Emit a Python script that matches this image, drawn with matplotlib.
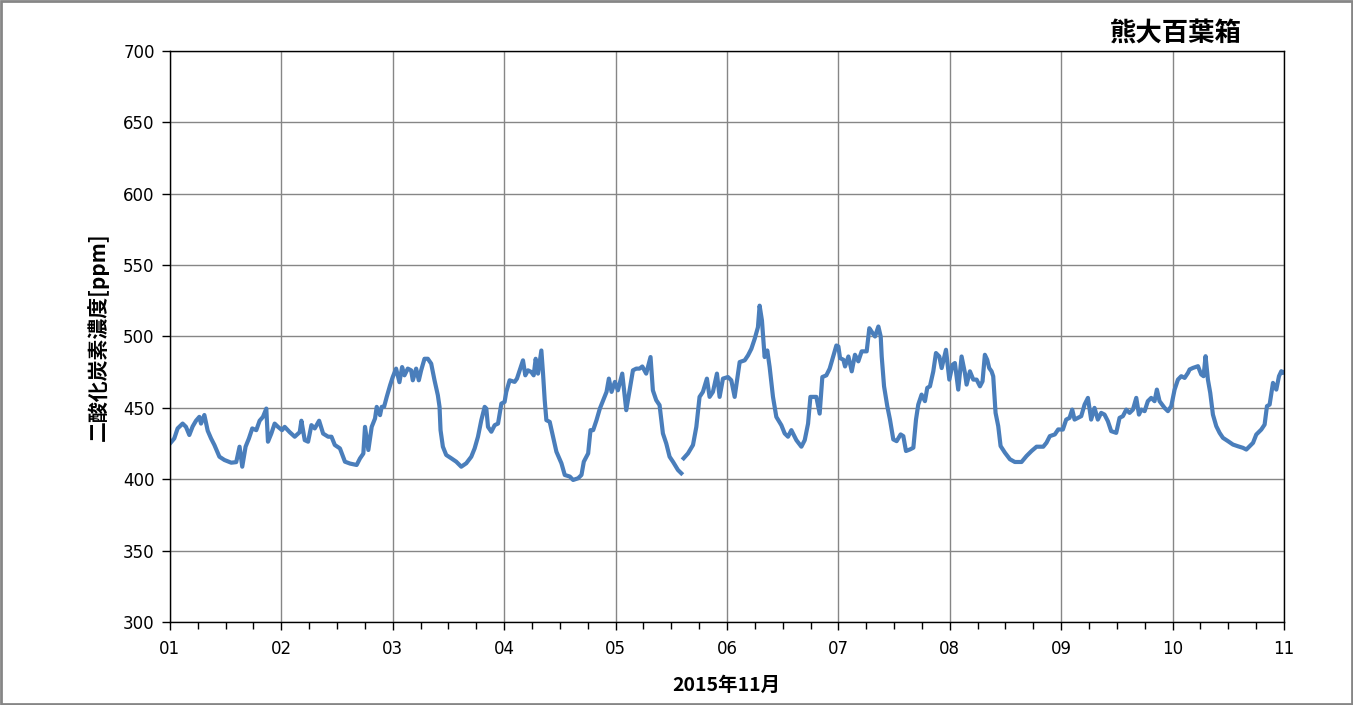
import numpy as np
import matplotlib
matplotlib.use('Agg')
import matplotlib.pyplot as plt
from matplotlib.ticker import MultipleLocator, FuncFormatter
from matplotlib.patches import Rectangle

# time in days of November 2015, CO2 concentration in ppm
days = [
    1.000, 1.039, 1.069, 1.114, 1.144, 1.174, 1.204, 1.234, 1.264, 1.279, 1.309, 1.339, 1.369, 1.399,
    1.444, 1.489, 1.550, 1.595, 1.625, 1.649, 1.679, 1.709, 1.739, 1.775, 1.805, 1.835, 1.865, 1.880,
    1.910, 1.940, 1.970, 2.006, 2.030, 2.075, 2.120, 2.165, 2.180, 2.210, 2.240, 2.270, 2.300, 2.339,
    2.375, 2.420, 2.450, 2.480, 2.526, 2.571, 2.616, 2.676, 2.706, 2.736, 2.751, 2.781, 2.811, 2.841,
    2.856, 2.886, 2.901, 2.922, 2.946, 2.976,
    3.000, 3.030, 3.060, 3.084, 3.105, 3.135, 3.165, 3.180, 3.210, 3.234, 3.255, 3.285, 3.315, 3.345,
    3.375, 3.405, 3.420, 3.429, 3.450, 3.480, 3.525, 3.570, 3.615, 3.660, 3.705, 3.735, 3.765, 3.795,
    3.825, 3.840, 3.855, 3.885, 3.915, 3.945, 3.975, 4.004, 4.019, 4.049, 4.094, 4.115, 4.139, 4.169,
    4.190, 4.214, 4.244, 4.265, 4.283, 4.304, 4.334, 4.349, 4.364, 4.379, 4.409, 4.439, 4.469, 4.514,
    4.544, 4.589, 4.619, 4.664, 4.694, 4.715, 4.754, 4.775, 4.799, 4.829, 4.859, 4.889, 4.919, 4.940,
    4.964, 4.994,
    5.021, 5.060, 5.096, 5.126, 5.156, 5.186, 5.216, 5.240, 5.275, 5.314, 5.335, 5.365, 5.395, 5.425,
    5.455, 5.485, 5.515, 5.560, 5.590, 5.600, 5.611, 5.650, 5.695, 5.725, 5.754, 5.784, 5.820, 5.844,
    5.874, 5.910, 5.934, 5.964, 6.009, 6.039, 6.069, 6.114, 6.159, 6.189, 6.219, 6.249, 6.278, 6.293,
    6.314, 6.338, 6.362, 6.383, 6.413, 6.443, 6.488, 6.518, 6.548, 6.578, 6.623, 6.668, 6.698, 6.728,
    6.749, 6.772, 6.802, 6.832, 6.856, 6.892, 6.922, 6.952, 6.982,
    7.000, 7.015, 7.045, 7.060, 7.090, 7.120, 7.149, 7.179, 7.209, 7.254, 7.278, 7.308, 7.329, 7.359,
    7.380, 7.389, 7.410, 7.439, 7.463, 7.493, 7.523, 7.559, 7.583, 7.607, 7.643, 7.673, 7.697, 7.717,
    7.747, 7.777, 7.798, 7.822, 7.852, 7.876, 7.906, 7.927, 7.966, 7.996, 8.025, 8.046, 8.076, 8.106,
    8.136, 8.151, 8.181, 8.211, 8.241, 8.271, 8.294, 8.315, 8.336, 8.354, 8.375, 8.390, 8.411, 8.435,
    8.456, 8.495, 8.540, 8.584, 8.644, 8.689, 8.734, 8.779, 8.839, 8.868, 8.898, 8.943, 8.973,
    9.015, 9.045, 9.075, 9.099, 9.120, 9.150, 9.180, 9.210, 9.240, 9.269, 9.299, 9.329, 9.359, 9.389,
    9.419, 9.449, 9.494, 9.524, 9.554, 9.584, 9.614, 9.644, 9.674, 9.698, 9.719, 9.749, 9.778, 9.808,
    9.838, 9.859, 9.883, 9.928, 9.958, 9.988, 10.018, 10.048, 10.078, 10.108, 10.138, 10.153, 10.183,
    10.228, 10.257, 10.278, 10.296, 10.317, 10.338, 10.362, 10.392, 10.422, 10.452, 10.497, 10.542,
    10.587, 10.632, 10.662, 10.692, 10.722, 10.751, 10.796, 10.826, 10.847, 10.871, 10.901, 10.931,
    10.955, 10.976, 10.991, 11.000,
]
co2 = [
    425.0, 428.6, 435.6, 439.0, 436.7, 431.0, 437.0, 441.0, 443.7, 439.0, 445.0, 434.0, 428.6, 424.0,
    415.8, 413.5, 411.6, 412.0, 422.8, 408.8, 422.8, 428.6, 435.6, 434.4, 441.0, 443.7, 449.5, 426.3,
    432.0, 439.0, 436.7, 434.4, 436.7, 433.0, 429.8, 433.0, 441.0, 427.4, 426.3, 437.9, 435.6, 441.0,
    432.0, 429.8, 429.8, 424.0, 421.6, 412.3, 411.0, 410.0, 414.6, 418.0, 436.7, 420.5, 436.7, 442.6,
    450.7, 444.9, 450.7, 450.7, 457.7, 465.8,
    471.6, 477.5, 468.0, 478.6, 472.8, 477.5, 476.3, 469.3, 477.5, 469.3, 476.3, 484.4, 484.4, 481.0,
    469.3, 458.8, 450.7, 434.4, 422.8, 417.0, 414.7, 412.3, 408.8, 411.2, 415.8, 421.6, 429.8, 441.4,
    450.7, 449.5, 436.7, 433.3, 437.9, 439.0, 453.0, 454.2, 461.2, 469.3, 468.2, 470.5, 476.3, 483.3,
    472.8, 476.3, 475.1, 472.8, 484.4, 474.0, 490.2, 474.0, 455.4, 441.4, 440.2, 429.8, 419.3, 411.2,
    403.0, 401.9, 399.5, 400.7, 403.0, 412.3, 418.1, 434.4, 434.4, 441.4, 449.5, 455.4, 461.2, 470.5,
    461.2, 468.2,
    462.3, 474.0, 448.4, 462.3, 476.3, 477.5, 477.5, 479.0, 474.0, 485.6, 462.3, 455.4, 451.9, 432.1,
    425.1, 415.8, 412.3, 406.5, 404.2, np.nan, 414.7, 418.1, 424.0, 436.7, 457.7, 461.2, 470.5, 457.7,
    461.2, 474.0, 457.7, 470.5, 471.6, 469.3, 457.7, 482.1, 483.3, 486.8, 491.4, 498.4, 506.5, 521.6,
    511.2, 485.6, 490.2, 478.6, 457.7, 443.7, 437.9, 432.1, 429.8, 434.4, 427.4, 422.8, 427.4, 439.0,
    457.7, 457.7, 457.7, 446.0, 471.6, 472.8, 477.5, 485.6, 493.7,
    493.0, 484.9, 483.7, 479.0, 486.0, 475.6, 487.2, 482.6, 489.6, 489.6, 505.8, 502.3, 500.0, 507.0,
    500.0, 486.0, 465.1, 451.2, 441.9, 427.9, 426.7, 431.4, 430.2, 419.8, 420.9, 422.1, 441.9, 452.3,
    459.3, 454.7, 464.0, 465.1, 475.6, 488.4, 486.0, 477.9, 490.7, 469.8, 480.2, 481.4, 462.8, 486.0,
    474.4, 466.3, 475.6, 469.8, 469.8, 465.1, 468.6, 487.2, 483.7, 477.9, 475.6, 472.1, 446.5, 437.2,
    423.3, 418.6, 414.0, 412.1, 412.1, 416.3, 419.8, 422.8, 422.8, 425.6, 430.2, 431.4, 434.9,
    434.8, 441.8, 443.0, 448.8, 441.8, 443.0, 444.2, 452.3, 457.0, 441.8, 450.0, 441.8, 446.5, 445.3,
    440.7, 433.7, 432.5, 443.0, 444.2, 448.8, 446.5, 448.8, 457.0, 445.3, 448.8, 447.7, 454.7, 457.0,
    454.7, 462.8, 454.7, 450.0, 447.7, 451.2, 462.8, 469.8, 472.2, 471.0, 474.5, 476.9, 478.0,
    479.2, 473.4, 472.2, 486.2, 469.8, 460.5, 445.3, 437.2, 432.5, 429.0, 426.7, 424.3,
    423.1, 422.0, 420.8, 423.1, 425.5, 431.3, 434.8, 438.3, 451.2, 452.3, 467.5, 462.8,
    472.2, 475.7, 474.5, 475.0,
]

title_text = '熊大百葉箱'
y_label = '二酸化炭素濃度[ppm]'
x_label = '2015年11月'

cjk = ['Noto Sans CJK JP', 'DejaVu Sans']


def main():
    fig = plt.figure(figsize=(13.53, 7.05), dpi=100)
    ax = fig.add_axes([0.1256, 0.1177, 0.8234, 0.81])

    ax.plot(days, co2, color='#4a7ebb', lw=3.0, solid_joinstyle='round')

    ax.set_xlim(1, 11)
    ax.set_ylim(300, 700)
    ax.xaxis.set_major_locator(MultipleLocator(1))
    ax.xaxis.set_minor_locator(MultipleLocator(0.25))
    ax.yaxis.set_major_locator(MultipleLocator(50))
    ax.xaxis.set_major_formatter(FuncFormatter(lambda v, p: '%02d' % int(round(v))))

    ax.grid(True, which='major', color='#868686', lw=1.0)
    ax.set_axisbelow(True)
    for s in ax.spines.values():
        s.set_color('black')
        s.set_linewidth(1.0)
    ax.tick_params(which='major', direction='out', length=6, width=1, labelsize=12, pad=5)
    ax.tick_params(axis='x', which='minor', direction='out', length=5, width=1)
    ax.tick_params(axis='x', which='major', pad=7)

    ax.set_ylabel(y_label, family=cjk, fontsize=15, fontweight='bold', labelpad=10)
    fig.text(0.5366, 0.028, x_label, family=cjk, fontsize=14, fontweight='bold',
             ha='center', va='center')
    fig.text(0.869, 0.953, title_text, family=cjk, fontsize=19, fontweight='bold',
             ha='center', va='center')

    # thin grey frame round the whole chart
    fig.patches.append(Rectangle((0.001, 0.002), 0.998, 0.996, transform=fig.transFigure,
                                 fill=False, edgecolor='#868686', lw=2))

    fig.savefig('out.png', dpi=100)
    plt.close(fig)


if __name__ == "__main__":
    main()
